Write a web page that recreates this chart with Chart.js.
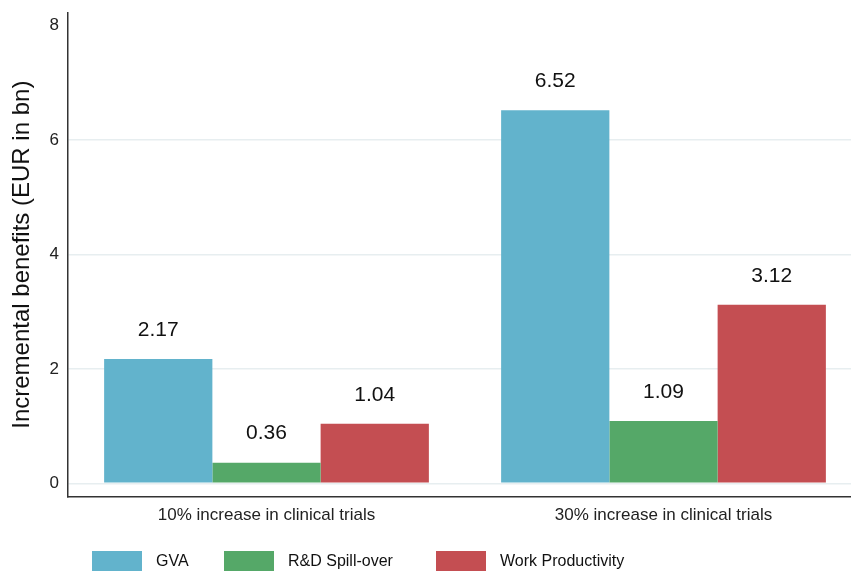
<!DOCTYPE html>
<html>
<head>
<meta charset="utf-8">
<script src="https://cdn.jsdelivr.net/npm/chart.js@4.4.1/dist/chart.umd.min.js"></script>
<style>
  html, body { margin: 0; padding: 0; background: #fff; overflow: hidden; }
  #wrap { width: 851px; height: 571px; overflow: hidden; position: relative; }
  #box { width: 862px; height: 571px; }
</style>
</head>
<body>
<div id="wrap"><div id="box"><canvas id="c"></canvas></div></div>
<script>
// Scenarios on the category axis
const categories = ['10% increase in clinical trials', '30% increase in clinical trials'];
// Incremental benefits, EUR bn
const gva = [2.17, 6.52];
const rdSpillover = [0.36, 1.09];
const workProductivity = [1.04, 3.12];
const seriesNames = ['GVA', 'R&D Spill-over', 'Work Productivity'];
const yTicks = [0, 2, 4, 6, 8];

const colors = ['#62b3cc', '#55a868', '#c44e52'];
const FONT = '"Liberation Sans", Arial, sans-serif';

// Value labels above each bar
const valueLabels = {
  id: 'valueLabels',
  afterDatasetsDraw(chart) {
    const ctx = chart.ctx;
    ctx.save();
    ctx.font = '21px ' + FONT;
    ctx.fillStyle = '#111';
    ctx.textAlign = 'center';
    ctx.textBaseline = 'middle';
    chart.data.datasets.forEach((ds, i) => {
      chart.getDatasetMeta(i).data.forEach((bar, j) => {
        ctx.fillText(ds.data[j].toFixed(2), bar.x, bar.y - 29);
      });
    });
    ctx.restore();
  }
};

// Legend row along the bottom edge
const bottomLegend = {
  id: 'bottomLegend',
  afterDraw(chart) {
    const ctx = chart.ctx;
    const starts = [92, 224, 436];
    ctx.save();
    ctx.font = '16px ' + FONT;
    ctx.textBaseline = 'middle';
    ctx.textAlign = 'left';
    chart.data.datasets.forEach((ds, i) => {
      ctx.fillStyle = ds.backgroundColor;
      ctx.fillRect(starts[i], 551, 50, 26);
      ctx.fillStyle = '#111';
      ctx.fillText(ds.label, starts[i] + 64, 562);
    });
    ctx.restore();
  }
};

new Chart(document.getElementById('c'), {
  type: 'bar',
  data: {
    labels: categories,
    datasets: [gva, rdSpillover, workProductivity].map((d, i) => ({
      label: seriesNames[i],
      data: d,
      backgroundColor: colors[i],
      borderWidth: 0
    }))
  },
  options: {
    responsive: true,
    maintainAspectRatio: false,
    animation: false,
    layout: { padding: { top: 8, left: 0, right: 0, bottom: 0 } },
    plugins: { legend: { display: false }, tooltip: { enabled: false } },
    datasets: { bar: { barPercentage: 1, categoryPercentage: 0.818 } },
    scales: {
      x: {
        grid: { display: false, drawTicks: false },
        border: { display: true, color: '#333', width: 1.5 },
        ticks: { color: '#222', font: { family: FONT, size: 17 }, padding: 8, maxRotation: 0 },
        afterFit(scale) { scale.height = 74; }
      },
      y: {
        min: -0.24,
        max: 8.23,
        afterBuildTicks(scale) { scale.ticks = yTicks.map(v => ({ value: v })); },
        grid: {
          drawTicks: false,
          color: ctx => (ctx.tick && ctx.tick.value < 8) ? '#e7eef0' : 'rgba(0,0,0,0)',
          lineWidth: 1.5
        },
        border: { display: true, color: '#333', width: 1.5 },
        ticks: { color: '#222', font: { family: FONT, size: 17, lineHeight: 0.4 }, padding: 9 },
        title: {
          display: true,
          text: 'Incremental benefits (EUR in bn)',
          color: '#111',
          font: { family: FONT, size: 24 },
          padding: { top: 8, bottom: 0 }
        },
        afterFit(scale) { scale.width = 68; }
      }
    }
  },
  plugins: [valueLabels, bottomLegend]
});
</script>
</body>
</html>
